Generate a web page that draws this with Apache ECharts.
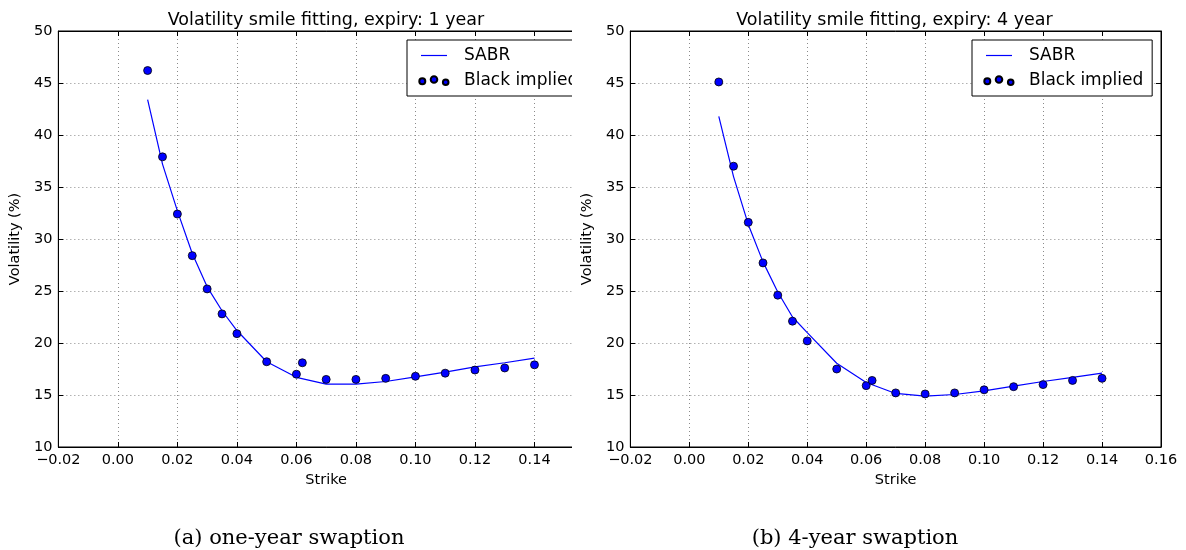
<!DOCTYPE html>
<html>
<head>
<meta charset="utf-8">
<script src="https://cdn.jsdelivr.net/npm/echarts@6/dist/echarts.min.js"></script>
<style>
  html, body { margin: 0; padding: 0; background: #ffffff; width: 1186px; height: 550px; overflow: hidden; }
  #wrapL { position: absolute; left: 0; top: 0; width: 572px; height: 550px; overflow: hidden; }
  #cL { position: absolute; left: 0; top: 0; width: 640px; height: 550px; }
  #cR { position: absolute; left: 572px; top: 0; width: 614px; height: 550px; }
</style>
</head>
<body>
<div id="wrapL"><div id="cL"></div></div>
<div id="cR"></div>
<script>
// ---- data ----
const blackStrikes = [0.01, 0.015, 0.02, 0.025, 0.03, 0.035, 0.04, 0.05, 0.06, 0.062, 0.07, 0.08, 0.09, 0.10, 0.11, 0.12, 0.13, 0.14];
const black1y = [46.2, 37.9, 32.4, 28.4, 25.2, 22.8, 20.9, 18.2, 17.0, 18.1, 16.5, 16.5, 16.6, 16.8, 17.1, 17.4, 17.6, 17.9];
const black4y = [45.1, 37.0, 31.6, 27.7, 24.6, 22.1, 20.2, 17.5, 15.9, 16.4, 15.2, 15.1, 15.2, 15.5, 15.8, 16.0, 16.4, 16.6];

const sabrStrikes = [0.01, 0.015, 0.02, 0.025, 0.03, 0.035, 0.04, 0.05, 0.06, 0.07, 0.08, 0.09, 0.10, 0.11, 0.12, 0.13, 0.14];
const sabr1y = [43.4, 37.2, 32.7, 28.6, 25.4, 23.1, 21.2, 18.2, 16.7, 16.05, 16.05, 16.3, 16.75, 17.2, 17.7, 18.1, 18.55];
const sabr4y = [41.8, 36.0, 31.4, 27.8, 24.9, 22.5, 21.0, 18.05, 16.2, 15.15, 14.9, 15.05, 15.4, 15.85, 16.3, 16.7, 17.1];

const titles = ['Volatility smile fitting, expiry: 1 year', 'Volatility smile fitting, expiry: 4 year'];
const captions = ['(a) one-year swaption', '(b) 4-year swaption'];
const seriesNames = ['SABR', 'Black implied'];
const xAxisName = 'Strike';
const yAxisName = 'Volatility (%)';
const xMin = -0.02, xMax = 0.16, xStep = 0.02;
const yMin = 10, yMax = 50, yStep = 5;

// ---- styling ----
const FONT = 'DejaVu Sans';
const BLUE = '#0000ff';
const lineIcon = 'path://M0,0L0,0M2,4.4L28,4.4L28,5.6L2,5.6ZM30,10L30,10';
const dotsIcon = 'path://M0,0L0,0M30,10L30,10' +
  'M0.3,5.7a3,3 0 1,0 6,0a3,3 0 1,0 -6,0Z' +
  'M11.7,4a3.3,3.3 0 1,0 6.6,0a3.3,3.3 0 1,0 -6.6,0Z' +
  'M23.9,6.7a2.8,2.8 0 1,0 5.6,0a2.8,2.8 0 1,0 -5.6,0Z';

function zip(xs, ys) { return xs.map((x, i) => [x, ys[i]]); }
function fmtX(v) {
  let s = (Math.abs(v) < 1e-9 ? 0 : v).toFixed(2);
  return s.replace('-', '\u2212');
}

function buildOption(p) {
  const frame = { show: true, onZero: false, lineStyle: { color: '#000', width: 1 } };
  const tick = { show: true, inside: true, length: 5, lineStyle: { color: '#000', width: 1 } };
  const split = { show: true, lineStyle: { color: '#8a8a8a', width: 1, type: [1, 3] } };
  return {
    animation: false,
    backgroundColor: '#ffffff',
    title: [
      { text: p.title, left: p.titleCx - 5, top: 15, textAlign: 'center', textVerticalAlign: 'middle',
        textStyle: { fontFamily: FONT, fontSize: 17.5, fontWeight: 'normal', color: '#000' } },
      { text: p.caption, left: p.capCx - 5, top: 534, textAlign: 'center', textVerticalAlign: 'middle',
        textStyle: { fontFamily: 'DejaVu Serif', fontSize: 21, fontWeight: 'normal', color: '#000' } }
    ],
    grid: { left: p.gridLeft, top: 31, width: p.gridWidth, height: 416, containLabel: false,
      show: true, borderColor: '#000', borderWidth: 1, backgroundColor: 'transparent' },
    legend: {
      orient: 'vertical', left: p.legendLeft, top: 40,
      padding: [6, 9, 6, 11], itemGap: 6, itemWidth: 30, itemHeight: 10,
      selectedMode: false, borderColor: '#000', borderWidth: 1, borderRadius: 0,
      backgroundColor: '#ffffff',
      textStyle: { fontFamily: FONT, fontSize: 17, color: '#000', lineHeight: 19, padding: [0, 0, 0, 10] },
      data: [ { name: seriesNames[0], icon: lineIcon }, { name: seriesNames[1], icon: dotsIcon } ]
    },
    xAxis: [
      { type: 'value', position: 'bottom', min: xMin, max: xMax, interval: xStep,
        axisLine: frame, axisTick: tick, splitLine: split,
        axisLabel: { formatter: fmtX, fontFamily: FONT, fontSize: 14.5, color: '#000', margin: 6, showMinLabel: true, showMaxLabel: true },
        name: xAxisName, nameLocation: 'middle', nameGap: 26,
        nameTextStyle: { fontFamily: FONT, fontSize: 14.5, color: '#000' } },
      { type: 'value', position: 'top', min: xMin, max: xMax, interval: xStep,
        axisLine: frame, axisTick: tick, splitLine: { show: false }, axisLabel: { show: false } }
    ],
    yAxis: [
      { type: 'value', position: 'left', min: yMin, max: yMax, interval: yStep,
        axisLine: frame, axisTick: tick, splitLine: split,
        axisLabel: { fontFamily: FONT, fontSize: 14.5, color: '#000', margin: 6 },
        name: yAxisName, nameLocation: 'middle', nameGap: 31,
        nameTextStyle: { fontFamily: FONT, fontSize: 14.5, color: '#000' } },
      { type: 'value', position: 'right', min: yMin, max: yMax, interval: yStep,
        axisLine: frame, axisTick: tick, splitLine: { show: false }, axisLabel: { show: false } }
    ],
    series: [
      { name: seriesNames[0], type: 'line', xAxisIndex: 0, yAxisIndex: 0,
        data: zip(sabrStrikes, p.sabr), showSymbol: false, symbol: 'none',
        color: BLUE, lineStyle: { color: BLUE, width: 1.2 }, itemStyle: { color: BLUE }, z: 3 },
      { name: seriesNames[1], type: 'scatter', xAxisIndex: 0, yAxisIndex: 0,
        data: zip(blackStrikes, p.black), symbol: 'circle', symbolSize: 8,
        itemStyle: { color: BLUE, borderColor: '#000', borderWidth: 0.8, opacity: 1 }, z: 4 }
    ]
  };
}

const chartL = echarts.init(document.getElementById('cL'), null, { renderer: 'canvas' });
chartL.setOption(buildOption({
  title: titles[0], caption: captions[0], titleCx: 326, capCx: 289,
  gridLeft: 58, gridWidth: 536, legendLeft: 407, sabr: sabr1y, black: black1y
}));

const chartR = echarts.init(document.getElementById('cR'), null, { renderer: 'canvas' });
chartR.setOption(buildOption({
  title: titles[1], caption: captions[1], titleCx: 322.5, capCx: 283,
  gridLeft: 56, gridWidth: 533, legendLeft: 400, sabr: sabr4y, black: black4y
}));
</script>
</body>
</html>
